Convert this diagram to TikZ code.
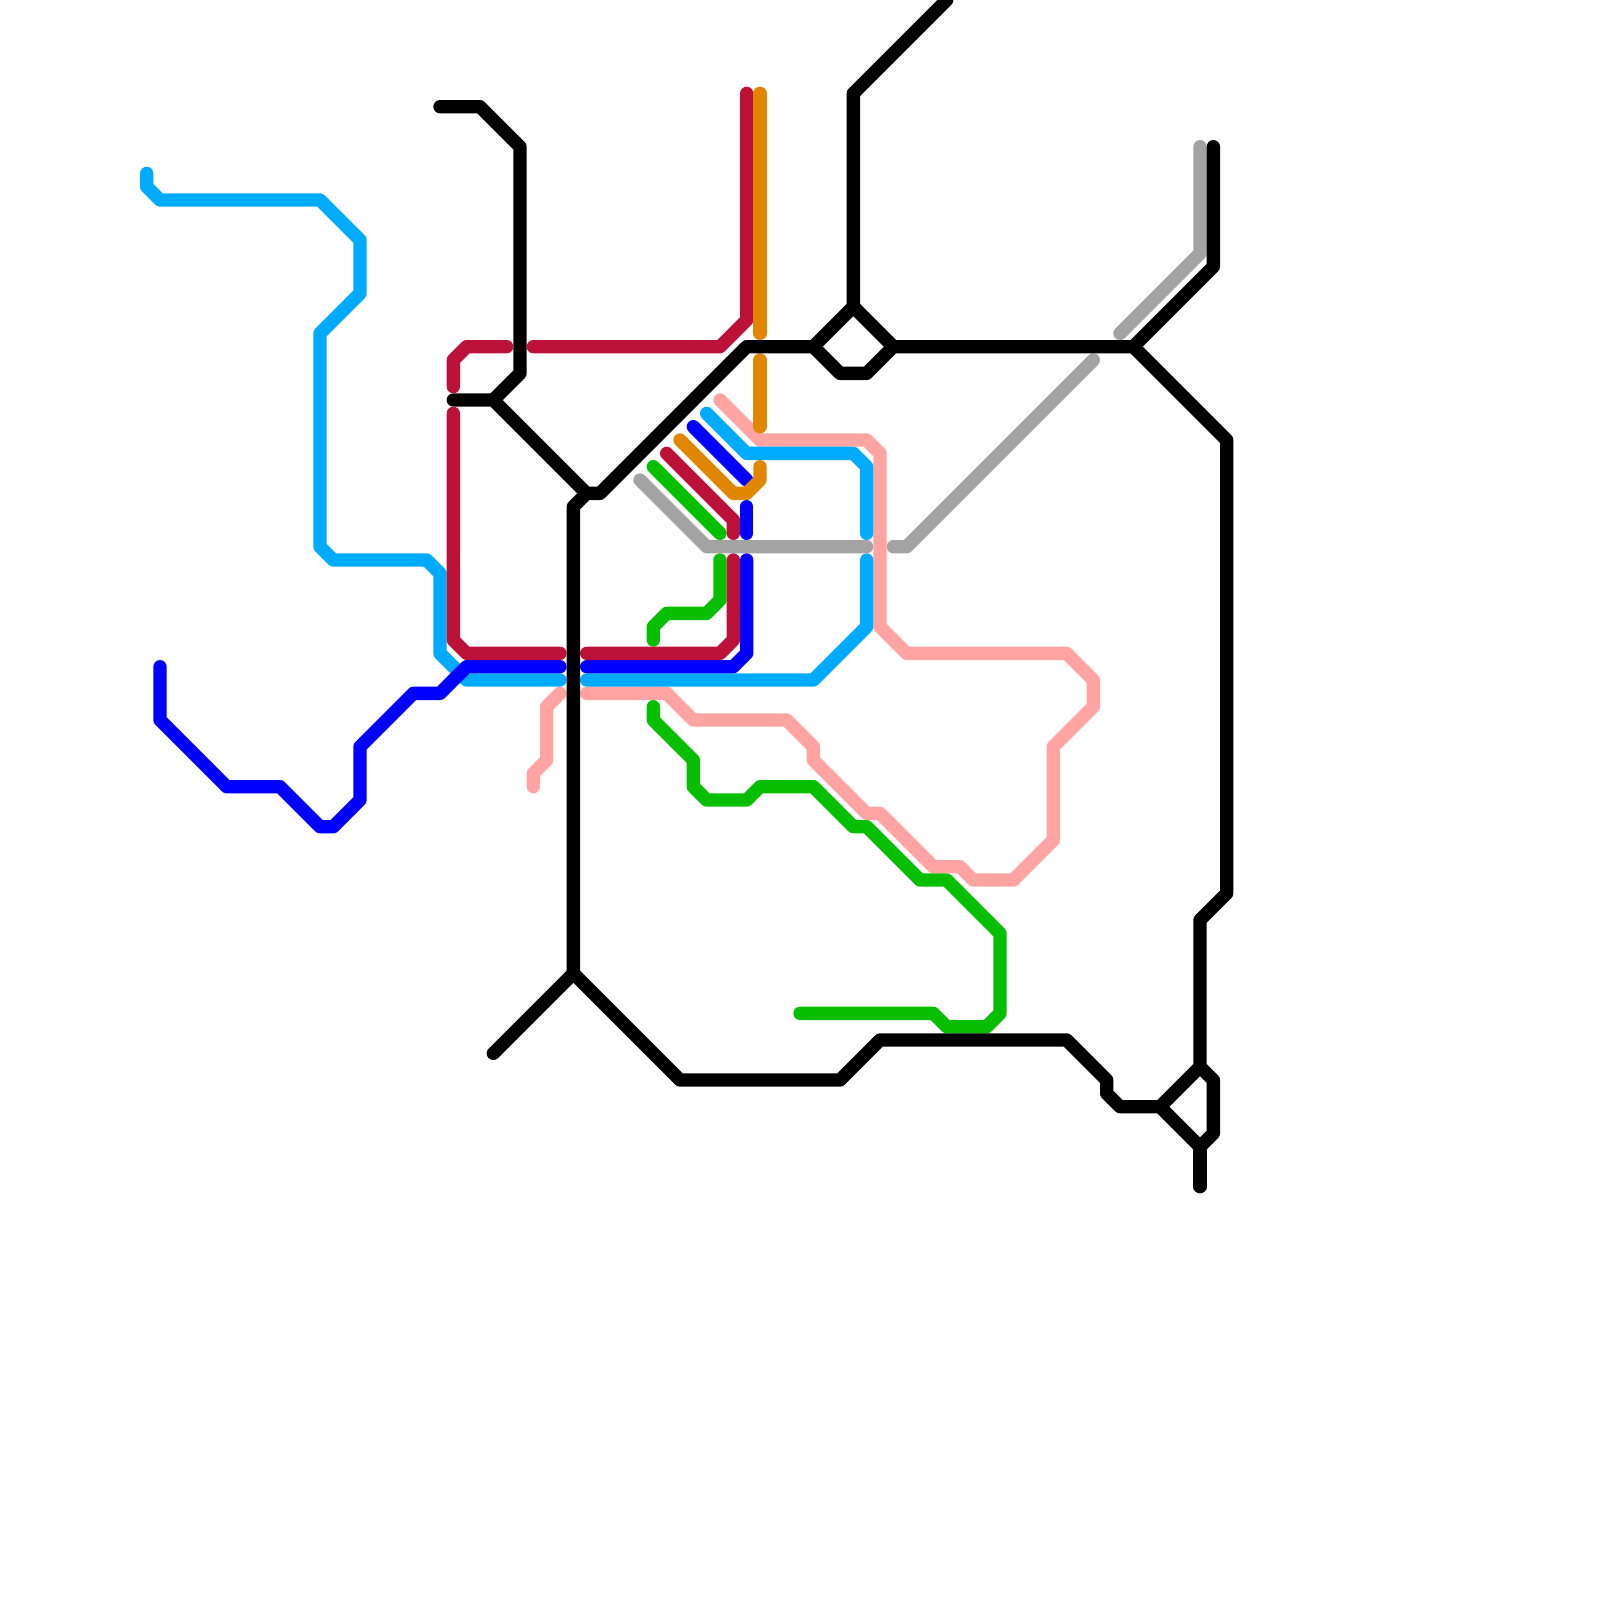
\documentclass[tikz,border=0pt]{standalone}
\usepackage{xcolor}
\usepackage{tikz}
\definecolor{skyline}{HTML}{00AAFF}
\definecolor{blueline}{HTML}{0000FF}
\definecolor{redline}{HTML}{BC1239}
\definecolor{orangeline}{HTML}{E08600}
\definecolor{greenline}{HTML}{08BE00}
\definecolor{greyline}{HTML}{A3A3A3}
\definecolor{pinkline}{HTML}{FFA3A3}
\begin{document}
\begin{tikzpicture}[
  x=1mm, y=-1mm,
  route/.style={line width=1mm, line cap=round, line join=round}
]
  \useasboundingbox (0,0) rectangle (120,120);
  \clip (0,0) rectangle (120,120);
  % grey
  \draw[route, greyline] (48,36) -- (53,41) -- (65,41);
  \draw[route, greyline] (67,41) -- (68,41) -- (82,27);
  \draw[route, greyline] (84,25) -- (90,19) -- (90,11);
  % pink
  \draw[route, pinkline] (54,30) -- (57,33) -- (65,33) -- (66,34) -- (66,47) -- (68,49) -- (80,49) -- (82,51) -- (82,53) -- (79,56) -- (79,63) -- (76,66) -- (73,66) -- (72,65) -- (70,65) -- (66,61) -- (65,61) -- (61,57) -- (61,56) -- (59,54) -- (52,54) -- (50,52) -- (44,52);
  \draw[route, pinkline] (42,52) -- (41,53) -- (41,57) -- (40,58) -- (40,59);
  % light blue
  \draw[route, skyline] (11,13) -- (11,14) -- (12,15) -- (24,15) -- (27,18) -- (27,22) -- (24,25) -- (24,41) -- (25,42) -- (32,42) -- (33,43) -- (33,49) -- (35,51) -- (42,51);
  \draw[route, skyline] (44,51) -- (61,51) -- (65,47) -- (65,42);
  \draw[route, skyline] (65,40) -- (65,35) -- (64,34) -- (56,34) -- (53,31);
  % green
  \draw[route, greenline] (49,35) -- (54,40);
  \draw[route, greenline] (54,42) -- (54,45) -- (53,46) -- (50,46) -- (49,47) -- (49,48);
  \draw[route, greenline] (49,53) -- (49,54) -- (52,57) -- (52,59) -- (53,60) -- (56,60) -- (57,59) -- (61,59) -- (64,62) -- (65,62) -- (69,66) -- (71,66) -- (75,70) -- (75,76) -- (74,77) -- (71,77) -- (70,76) -- (60,76);
  % blue
  \draw[route, blueline] (12,50) -- (12,54) -- (17,59) -- (21,59) -- (24,62) -- (25,62) -- (27,60) -- (27,56) -- (31,52) -- (33,52) -- (35,50) -- (42,50);
  \draw[route, blueline] (44,50) -- (55,50) -- (56,49) -- (56,42);
  \draw[route, blueline] (56,40) -- (56,38);
  \draw[route, blueline] (56,36) -- (52,32);
  % red
  \draw[route, redline] (56,7) -- (56,24) -- (54,26) -- (40,26);
  \draw[route, redline] (38,26) -- (35,26) -- (34,27) -- (34,29);
  \draw[route, redline] (34,31) -- (34,48) -- (35,49) -- (42,49);
  \draw[route, redline] (44,49) -- (54,49) -- (55,48) -- (55,42);
  \draw[route, redline] (55,40) -- (55,39) -- (50,34);
  % orange
  \draw[route, orangeline] (57,7) -- (57,25);
  \draw[route, orangeline] (57,27) -- (57,32);
  \draw[route, orangeline] (57,35) -- (57,36) -- (56,37) -- (55,37) -- (51,33);
  % black
  \draw[route, black] (33,8) -- (36,8) -- (39,11) -- (39,28) -- (37,30);
  \draw[route, black] (34,30) -- (37,30) -- (44,37) -- (45,37) -- (56,26) -- (61,26) -- (64,23) -- (67,26) -- (85,26) -- (91,20) -- (91,11);
  \draw[route, black] (61,26) -- (63,28) -- (65,28) -- (67,26);
  \draw[route, black] (64,23) -- (64,7) -- (71,0);
  \draw[route, black] (85,26) -- (92,33) -- (92,67) -- (90,69) -- (90,80) -- (87,83) -- (84,83) -- (83,82) -- (83,81) -- (80,78) -- (66,78) -- (63,81) -- (51,81) -- (43,73) -- (37,79);
  \draw[route, black] (43,73) -- (43,38) -- (44,37);
  \draw[route, black] (90,80) -- (91,81) -- (91,85) -- (90,86) -- (87,83);
  \draw[route, black] (90,86) -- (90,89);
\end{tikzpicture}
\end{document}
